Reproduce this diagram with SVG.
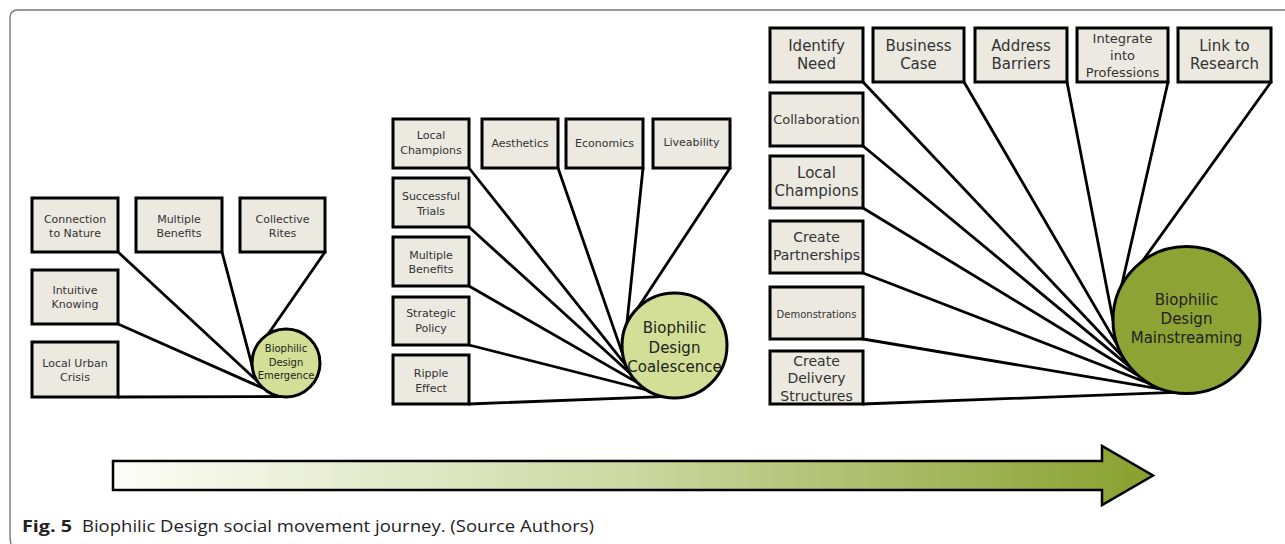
<svg xmlns="http://www.w3.org/2000/svg" width="1285" height="544" viewBox="0 0 1285 544">
<style>
.box{fill:#ece9e1;stroke:#000;stroke-width:3}
.t{font-family:"DejaVu Sans",Verdana,sans-serif;fill:#333;text-anchor:middle}
.s10{font-size:10px}.s11{font-size:11px}.s13{font-size:13px}.s14{font-size:14px}.s15{font-size:15px}
.ln{stroke:#000;stroke-width:2.8;fill:none;stroke-linecap:round}
.c1{fill:#d3df96;stroke:#000;stroke-width:3}
.c3{fill:#8da333;stroke:#000;stroke-width:3}
.ct{font-family:"DejaVu Sans",Verdana,sans-serif;fill:#222;text-anchor:middle}
.cap{font-family:"Open Sans","Liberation Sans",sans-serif;font-size:16px;fill:#222}
</style>
<defs>
<linearGradient id="ag" gradientUnits="userSpaceOnUse" x1="113" y1="0" x2="1153" y2="0">
<stop offset="0" stop-color="#fdfdf8"/>
<stop offset="0.5" stop-color="#cbd8a0"/>
<stop offset="1" stop-color="#88a02e"/>
</linearGradient>
</defs>
<path d="M11 544 Q10 541 10 536 L10 18 Q10 10 18 10 L1285 10" fill="none" stroke="#777" stroke-width="1.4"/>
<g id="connectors">
<line class="ln" x1="325" y1="252" x2="268" y2="334.2"/>
<line class="ln" x1="222" y1="252" x2="255.2" y2="377.4"/>
<line class="ln" x1="118" y1="252" x2="257.2" y2="381"/>
<line class="ln" x1="118" y1="324" x2="263.2" y2="388.3"/>
<line class="ln" x1="118" y1="397" x2="280.1" y2="396.5"/>
<line class="ln" x1="730" y1="168" x2="638" y2="307.7"/>
<line class="ln" x1="643" y1="168" x2="626.9" y2="323.3"/>
<line class="ln" x1="558" y1="168" x2="622.8" y2="354.6"/>
<line class="ln" x1="469" y1="168" x2="625.8" y2="365.2"/>
<line class="ln" x1="469" y1="227" x2="630" y2="373.3"/>
<line class="ln" x1="469" y1="286" x2="637.4" y2="382.6"/>
<line class="ln" x1="469" y1="345" x2="646.7" y2="390"/>
<line class="ln" x1="469" y1="404" x2="662.7" y2="396.6"/>
<line class="ln" x1="1271" y1="82" x2="1142.3" y2="261.3"/>
<line class="ln" x1="1168" y1="82" x2="1121.6" y2="285.5"/>
<line class="ln" x1="1067" y1="82" x2="1113" y2="320"/>
<line class="ln" x1="964" y1="82" x2="1117.4" y2="345.1"/>
<line class="ln" x1="863" y1="82" x2="1122.8" y2="356.8"/>
<line class="ln" x1="863" y1="146" x2="1130.2" y2="367.2"/>
<line class="ln" x1="863" y1="208" x2="1139.3" y2="376.3"/>
<line class="ln" x1="863" y1="273" x2="1149.8" y2="383.7"/>
<line class="ln" x1="863" y1="339" x2="1161.4" y2="389.1"/>
<line class="ln" x1="863" y1="404" x2="1173.7" y2="392.4"/>
</g>
<!-- Stage 1 -->
<g id="connection-to-nature"><rect class="box" x="32" y="198" width="86" height="54"/><text class="t s11" x="75" y="223">Connection</text><text class="t s11" x="75" y="237">to Nature</text></g>
<g id="multiple-benefits-1"><rect class="box" x="136" y="198" width="86" height="54"/><text class="t s11" x="179" y="223">Multiple</text><text class="t s11" x="179" y="237">Benefits</text></g>
<g id="collective-rites"><rect class="box" x="240" y="198" width="85" height="54"/><text class="t s11" x="282.5" y="223">Collective</text><text class="t s11" x="282.5" y="237">Rites</text></g>
<g id="intuitive-knowing"><rect class="box" x="32" y="270" width="86" height="54"/><text class="t s11" x="75" y="294">Intuitive</text><text class="t s11" x="75" y="308">Knowing</text></g>
<g id="local-urban-crisis"><rect class="box" x="32" y="342" width="86" height="55"/><text class="t s11" x="75" y="367">Local Urban</text><text class="t s11" x="75" y="381">Crisis</text></g>
<g id="emergence"><circle class="c1" cx="286" cy="363" r="34"/><text class="ct s10" x="286" y="351.5">Biophilic</text><text class="ct s10" x="286" y="365.5">Design</text><text class="ct s10" x="286" y="378.5">Emergence</text></g>
<!-- Stage 2 -->
<g id="local-champions-2"><rect class="box" x="393" y="119" width="76" height="49"/><text class="t s11" x="431" y="139">Local</text><text class="t s11" x="431" y="154">Champions</text></g>
<g id="aesthetics"><rect class="box" x="482" y="119" width="76" height="49"/><text class="t s11" x="520" y="147">Aesthetics</text></g>
<g id="economics"><rect class="box" x="566" y="119" width="77" height="49"/><text class="t s11" x="604.5" y="147">Economics</text></g>
<g id="liveability"><rect class="box" x="653" y="119" width="77" height="49"/><text class="t s11" x="691.5" y="146">Liveability</text></g>
<g id="successful-trials"><rect class="box" x="393" y="178" width="76" height="49"/><text class="t s11" x="431" y="200">Successful</text><text class="t s11" x="431" y="215">Trials</text></g>
<g id="multiple-benefits-2"><rect class="box" x="393" y="237" width="76" height="49"/><text class="t s11" x="431" y="259">Multiple</text><text class="t s11" x="431" y="273">Benefits</text></g>
<g id="strategic-policy"><rect class="box" x="393" y="297" width="76" height="48"/><text class="t s11" x="431" y="317">Strategic</text><text class="t s11" x="431" y="332">Policy</text></g>
<g id="ripple-effect"><rect class="box" x="393" y="355" width="76" height="49"/><text class="t s11" x="431" y="377">Ripple</text><text class="t s11" x="431" y="392">Effect</text></g>
<g id="coalescence"><circle class="c1" cx="674.5" cy="345.5" r="52.5"/><text class="ct s15" x="674.5" y="333">Biophilic</text><text class="ct s15" x="674.5" y="353">Design</text><text class="ct s15" x="674.5" y="372">Coalescence</text></g>
<!-- Stage 3 -->
<g id="identify-need"><rect class="box" x="770" y="28" width="93" height="54"/><text class="t s15" x="816.5" y="51">Identify</text><text class="t s15" x="816.5" y="69">Need</text></g>
<g id="business-case"><rect class="box" x="873" y="28" width="91" height="54"/><text class="t s15" x="918.5" y="51">Business</text><text class="t s15" x="918.5" y="69">Case</text></g>
<g id="address-barriers"><rect class="box" x="975" y="28" width="92" height="54"/><text class="t s15" x="1021" y="51">Address</text><text class="t s15" x="1021" y="69">Barriers</text></g>
<g id="integrate"><rect class="box" x="1077" y="28" width="91" height="54"/><text class="t s13" x="1122.5" y="42.5">Integrate</text><text class="t s13" x="1122.5" y="59.5">into</text><text class="t s13" x="1122.5" y="76.5">Professions</text></g>
<g id="link-to-research"><rect class="box" x="1178" y="28" width="93" height="54"/><text class="t s15" x="1224.5" y="51">Link to</text><text class="t s15" x="1224.5" y="69">Research</text></g>
<g id="collaboration"><rect class="box" x="770" y="93" width="93" height="53"/><text class="t s13" x="816.5" y="123.5">Collaboration</text></g>
<g id="local-champions-3"><rect class="box" x="770" y="156" width="93" height="52"/><text class="t s15" x="816.5" y="178">Local</text><text class="t s15" x="816.5" y="196">Champions</text></g>
<g id="create-partnerships"><rect class="box" x="770" y="221" width="93" height="52"/><text class="t s14" x="816.5" y="242">Create</text><text class="t s14" x="816.5" y="260">Partnerships</text></g>
<g id="demonstrations"><rect class="box" x="770" y="287" width="93" height="52"/><text class="t s10" x="816.5" y="317.5">Demonstrations</text></g>
<g id="create-delivery-structures"><rect class="box" x="770" y="351" width="93" height="53"/><text class="t s14" x="816.5" y="366">Create</text><text class="t s14" x="816.5" y="383">Delivery</text><text class="t s14" x="816.5" y="400.5">Structures</text></g>
<g id="mainstreaming"><circle class="c3" cx="1186.5" cy="320" r="73.5"/><text class="ct s15" x="1186.5" y="305">Biophilic</text><text class="ct s15" x="1186.5" y="324">Design</text><text class="ct s15" x="1186.5" y="343">Mainstreaming</text></g>
<!-- Timeline arrow -->
<g id="journey-arrow"><polygon points="113,461 1102,461 1102,446 1153,475.5 1102,505 1102,490 113,490" fill="url(#ag)" stroke="#000" stroke-width="2.5" stroke-linejoin="miter"/></g>
<text class="cap" x="22" y="532" font-weight="bold" textLength="50" lengthAdjust="spacingAndGlyphs">Fig. 5</text>
<text class="cap" x="82" y="532" textLength="512" lengthAdjust="spacingAndGlyphs">Biophilic Design social movement journey. (Source Authors)</text>
</svg>
